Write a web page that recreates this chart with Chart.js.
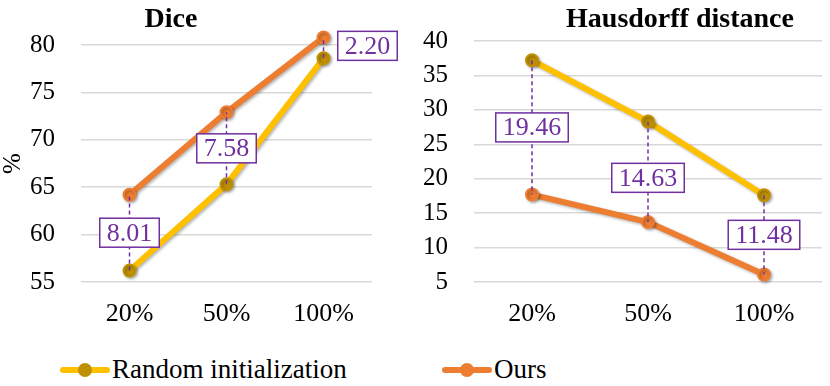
<!DOCTYPE html>
<html>
<head>
<meta charset="utf-8">
<script src="https://cdn.jsdelivr.net/npm/chart.js@4.4.0/dist/chart.umd.min.js"></script>
<style>
  html, body { margin: 0; padding: 0; background: #fff; }
  body { width: 830px; height: 386px; position: relative; overflow: hidden; font-family: "Times New Roman", "Liberation Serif", Tinos, "DejaVu Serif", serif; }
  .panel { position: absolute; top: 0; height: 345px; }
  #painel-dice { left: 0; width: 415px; }
  #painel-hd { left: 415px; width: 415px; }
  .titulo { position: absolute; top: 2px; font-weight: bold; font-size: 28px; color: #000; white-space: nowrap; transform: translateX(-50%); }
  .legenda { position: absolute; top: 354px; font-size: 27px; color: #000; display: flex; align-items: center; white-space: nowrap; }
  .marca { position: relative; width: 50px; height: 6px; border-radius: 3px; margin-right: 2px; }
  .marca span { position: absolute; left: 18px; top: -4px; width: 14px; height: 14px; border-radius: 50%; }
</style>
</head>
<body>
  <div class="panel" id="painel-dice"><canvas id="chart-dice"></canvas></div>
  <div class="panel" id="painel-hd"><canvas id="chart-hd"></canvas></div>
  <div class="titulo" style="left:171px">Dice</div>
  <div class="titulo" style="left:680px">Hausdorff distance</div>
  <div class="legenda" style="left:60px">
    <div class="marca" style="background:#FFC000"><span style="background:#BF9000"></span></div>Random initialization
  </div>
  <div class="legenda" style="left:442px">
    <div class="marca" style="background:#ED7D31"><span style="background:#ED7D31"></span></div>Ours
  </div>
<script>
const categories = ["20%", "50%", "100%"];

const diceRandom = [56.2, 65.3, 78.6];
const diceOurs = [64.2, 72.9, 80.8];
const diceGaps = ["8.01", "7.58", "2.20"];
const diceTicks = [55, 80, 5];

const hdRandom = [37.2, 28.3, 17.6];
const hdOurs = [17.7, 13.7, 6.1];
const hdGaps = ["19.46", "14.63", "11.48"];
const hdTicks = [5, 40, 5];

const FONTE = "'Times New Roman', 'Liberation Serif', Tinos, 'DejaVu Serif', serif";
const ROXO = "#7030A0";

// sombra leve nas linhas e pontos
const sombra = {
  id: "sombra",
  beforeDatasetDraw(chart) {
    const ctx = chart.ctx;
    ctx.save();
    ctx.shadowColor = "rgba(0,0,0,0.3)";
    ctx.shadowBlur = 3;
    ctx.shadowOffsetX = 1.5;
    ctx.shadowOffsetY = 1.5;
  },
  afterDatasetDraw(chart) {
    chart.ctx.restore();
  }
};

// linha tracejada + caixa com a diferença
const caixasDiferenca = {
  id: "caixasDiferenca",
  afterDatasetsDraw(chart, args, opts) {
    const ctx = chart.ctx;
    const x = chart.scales.x;
    const y = chart.scales.y;
    const a = chart.data.datasets[0].data;
    const b = chart.data.datasets[1].data;
    ctx.save();
    ctx.font = "26px " + FONTE;
    opts.labels.forEach((txt, i) => {
      const px = x.getPixelForValue(i);
      const y1 = y.getPixelForValue(a[i]);
      const y2 = y.getPixelForValue(b[i]);
      ctx.strokeStyle = ROXO;
      ctx.lineWidth = 1.5;
      ctx.setLineDash([4, 3]);
      ctx.beginPath();
      ctx.moveTo(px, y1);
      ctx.lineTo(px, y2);
      ctx.stroke();
      ctx.setLineDash([]);

      const off = (opts.offsets && opts.offsets[i]) || [0, 0];
      const cx = px + off[0];
      const cy = (y1 + y2) / 2 + off[1];
      const w = ctx.measureText(txt).width + 14;
      const h = 29;
      ctx.fillStyle = "#fff";
      ctx.fillRect(cx - w / 2, cy - h / 2, w, h);
      ctx.strokeRect(cx - w / 2, cy - h / 2, w, h);
      ctx.fillStyle = ROXO;
      ctx.textAlign = "center";
      ctx.textBaseline = "middle";
      ctx.fillText(txt, cx, cy + 1);
    });
    ctx.restore();
  }
};

function criarSerie(label, data, corLinha, corPonto) {
  // raio 6 + borda 2: mesmo tamanho visual, mas o ponto acima do topo do eixo continua sendo desenhado
  return {
    label,
    data,
    borderColor: corLinha,
    backgroundColor: corPonto,
    pointBackgroundColor: corPonto,
    pointBorderColor: corPonto,
    borderWidth: 6,
    pointRadius: 6,
    pointBorderWidth: 2,
    tension: 0,
    clip: false
  };
}

function desenharGrafico(id, random, ours, ticks, gaps, cfg) {
  const ctx = document.getElementById(id).getContext("2d");
  return new Chart(ctx, {
    type: "line",
    data: {
      labels: categories,
      datasets: [
        criarSerie("Random initialization", random, "#FFC000", "#BF9000"),
        criarSerie("Ours", ours, "#ED7D31", "#ED7D31")
      ]
    },
    plugins: [sombra, caixasDiferenca],
    options: {
      responsive: true,
      maintainAspectRatio: false,
      animation: false,
      layout: { padding: { top: cfg.topo, right: cfg.padRight, bottom: 0, left: 0 } },
      plugins: {
        legend: { display: false },
        tooltip: { enabled: false },
        caixasDiferenca: { labels: gaps, offsets: cfg.offsets }
      },
      scales: {
        x: {
          offset: true,
          grid: { display: false, drawTicks: false },
          border: { display: false },
          ticks: { color: "#000", font: { family: FONTE, size: 26 }, padding: 17 },
          afterFit: s => { s.height = 345 - 282; }
        },
        y: {
          min: ticks[0],
          max: ticks[1],
          ticks: { stepSize: ticks[2], color: "#000", font: { family: FONTE, size: 25 }, padding: 26 },
          grid: { color: "#D9D9D9", lineWidth: 1.5, drawTicks: false },
          border: { display: false },
          title: cfg.tituloY
            ? { display: true, text: cfg.tituloY, color: "#000", font: { family: FONTE, size: 25, lineHeight: 1.05 }, padding: 0 }
            : { display: false },
          afterFit: s => { s.width = cfg.larguraY; }
        }
      }
    }
  });
}

desenharGrafico("chart-dice", diceRandom, diceOurs, diceTicks, diceGaps, {
  larguraY: 81, padRight: 43, topo: 45, tituloY: "%", offsets: [[0, 0], [0, 0], [44, -2]]
});
desenharGrafico("chart-hd", hdRandom, hdOurs, hdTicks, hdGaps, {
  larguraY: 59, padRight: 0, topo: 36, tituloY: null, offsets: [[0, 0], [0, 6], [0, 0]]
});
</script>
</body>
</html>
